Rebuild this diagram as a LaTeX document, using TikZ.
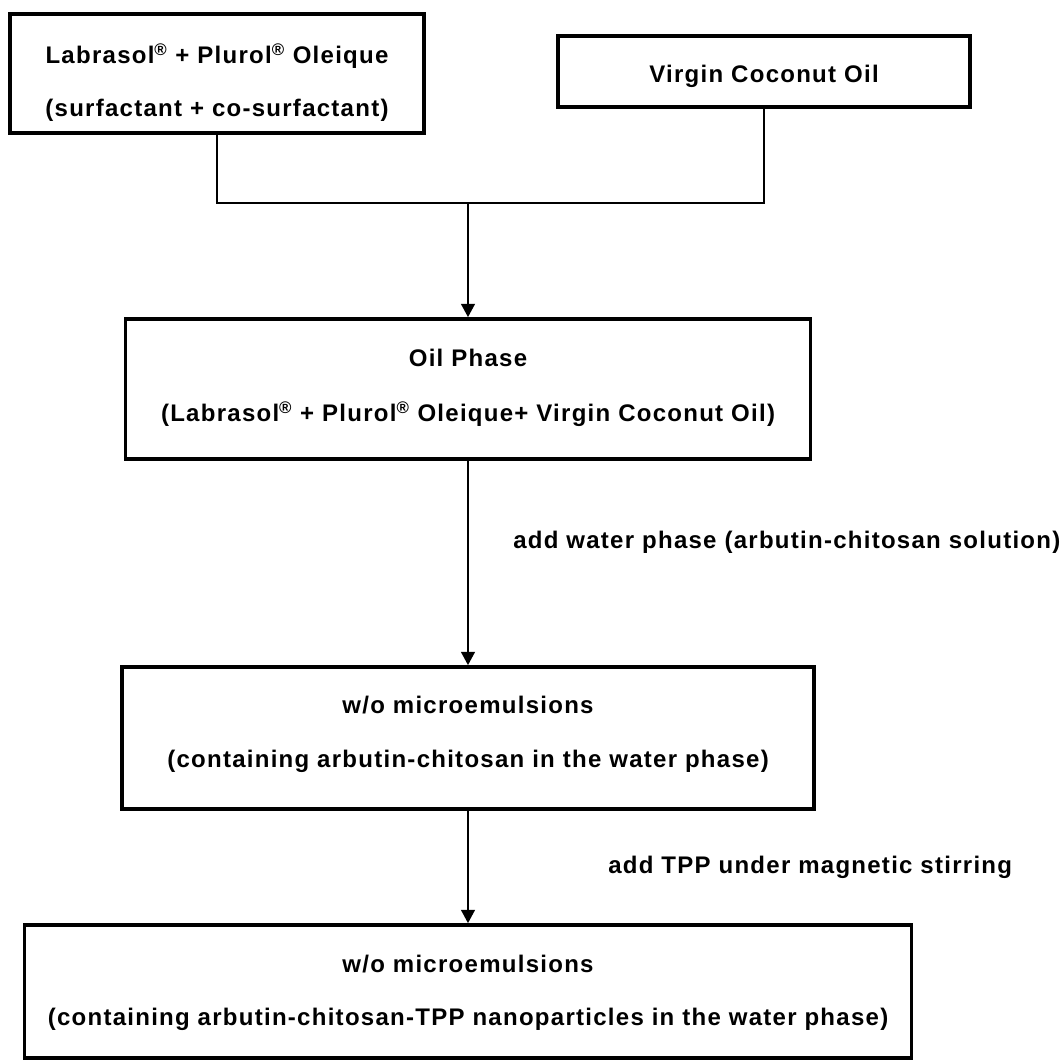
\documentclass[tikz,border=0pt]{standalone}
\usepackage{fontspec}
\newfontfamily\flowfont{Liberation Sans}[LetterSpace=5.3]
\usetikzlibrary{arrows.meta, positioning}

\begin{document}
\begin{tikzpicture}[x=0.75pt,y=0.75pt,yscale=-1,xscale=1,
  pbox/.style={draw, line width=2.6pt, inner sep=0pt},
  ptext/.style={anchor=base, inner sep=0.75pt, font=\flowfont\bfseries\fontsize{18}{21}\selectfont},
  conn/.style={line width=2.2pt},
  flow/.style={conn, -{Triangle[length=10pt, width=10pt]}}]
\useasboundingbox (0,0) rectangle (1064,1062);

%Shape: Rectangle
\node[pbox, minimum width={414*0.75pt}, minimum height={119*0.75pt}] (labr) at (217,73.5) {};
%Shape: Rectangle
\node[pbox, minimum width={412*0.75pt}, minimum height={71*0.75pt}] (vco) at (764,71.5) {};
%Shape: Rectangle
\node[pbox, minimum width={685*0.75pt}, minimum height={140*0.75pt}] (oil) at (468,389) {};
%Shape: Rectangle
\node[pbox, minimum width={692*0.75pt}, minimum height={142*0.75pt}] (wo) at (468,738) {};
%Shape: Rectangle
\node[pbox, minimum width={887*0.75pt}, minimum height={133*0.75pt}] (wotpp) at (468,991.5) {};

%Straight Lines
\coordinate (join) at (468,203);
\draw[conn] (labr.south) |- (join) -| (vco.south);
%Straight Lines
\draw[flow] (join) -- (oil.north);
%Straight Lines
\draw[flow] (oil.south) -- (wo.north);
%Straight Lines
\draw[flow] (wo.south) -- (wotpp.north);

% Text Node
\node[ptext] (labrtop) at (217,64) {Labrasol\textsuperscript{®} + Plurol\textsuperscript{®} Oleique};
% Text Node
\node[ptext] (labrbot) at (217,117) {(surfactant + co-surfactant)};
% Text Node
\node[ptext] (vcotxt) at (764,83) {Virgin Coconut Oil};
% Text Node
\node[ptext] (oiltop) at (468,367) {Oil Phase};
% Text Node
\node[ptext] (oilbot) at (468,422) {(Labrasol\textsuperscript{®} + Plurol\textsuperscript{®} Oleique+ Virgin Coconut Oil)};
% Text Node
\node[ptext, anchor=base west] (addwater) at (512,548) {add water phase (arbutin-chitosan solution)};
% Text Node
\node[ptext] (wotop) at (468,713) {w/o microemulsions};
% Text Node
\node[ptext] (wobot) at (468,767) {(containing arbutin-chitosan in the water phase)};
% Text Node
\node[ptext, anchor=base west] (addtpp) at (607,873) {add TPP under magnetic stirring};
% Text Node
\node[ptext] (wotpptop) at (468,972) {w/o microemulsions};
% Text Node
\node[ptext] (wotppbot) at (468,1025) {(containing arbutin-chitosan-TPP nanoparticles in the water phase)};

\end{tikzpicture}
\end{document}
